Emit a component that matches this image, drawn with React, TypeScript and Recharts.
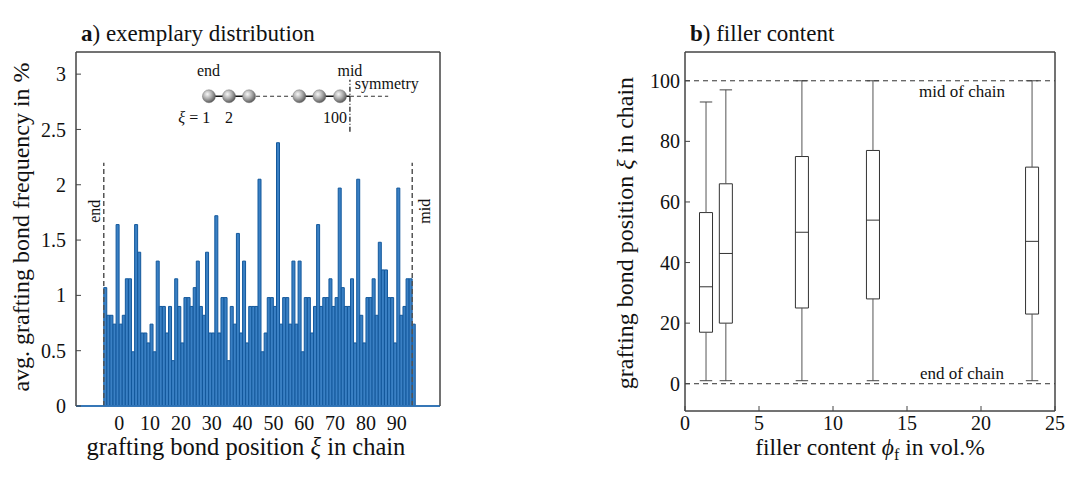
import React from 'react';
import {
  ComposedChart,
  Bar,
  XAxis,
  YAxis,
  ReferenceLine,
  ReferenceDot,
  ReferenceArea,
} from 'recharts';

const FONT = '"Liberation Serif", "Times New Roman", serif';

// ---------- panel a: exemplary distribution ----------
// avg. grafting bond frequency in % for each grafting bond position (bars 0..100)
const frequency = [
  1.07, 0.82, 0.82, 0.74, 1.64, 0.74, 0.82, 1.15, 1.15, 0.49,
  1.64, 1.39, 0.66, 0.66, 0.57, 0.74, 0.49, 1.31, 0.9, 0.9,
  0.66, 0.9, 0.41, 1.15, 0.9, 0.57, 0.98, 0.98, 0.9, 1.07,
  1.31, 0.9, 0.82, 1.39, 0.66, 0.66, 1.72, 0.66, 0.98, 0.98,
  0.41, 0.9, 0.74, 1.56, 0.66, 1.31, 0.57, 0.9, 0.9, 0.9,
  2.05, 0.49, 0.66, 0.98, 0.98, 0.9, 2.38, 0.74, 0.98, 0.98,
  0.74, 1.31, 0.74, 1.31, 0.49, 0.98, 0.98, 0.66, 0.9, 1.64,
  0.9, 0.98, 0.98, 1.15, 0.9, 0.98, 1.97, 1.07, 0.9, 0.9,
  1.15, 0.57, 2.05, 0.82, 0.57, 0.98, 0.98, 1.15, 0.82, 1.48,
  1.23, 1.23, 0.98, 0.98, 0.57, 1.97, 0.82, 0.9, 1.15, 1.15, 0.74,
];
const barTickPositions = [0, 10, 20, 30, 40, 50, 60, 70, 80, 90, 100];
const barLabelPositions = [5, 15, 25, 35, 45, 55, 65, 75, 85, 95];
const barLabels = ['0', '10', '20', '30', '40', '50', '60', '70', '80', '90'];
const freqTicks = [0, 0.5, 1, 1.5, 2, 2.5, 3];
const freqTickLabels = ['0', '0.5', '1', '1.5', '2', '2.5', '3'];
const xDomainA: [number, number] = [-9, 109];
const yDomainA: [number, number] = [0, 3.2];

// inset sketch (in panel-a data coordinates)
const insetBallX = [34.1, 40.6, 47.1, 63.4, 69.9, 76.6];
const insetBallY = 2.8;
const insetMidX = 79.8;
const insetDashEndX = 92.2;
const insetVertical: [number, number] = [2.48, 2.95];
const insetHeaderY = 2.984;
const insetEndLabelX = 33.97;
const insetSymmetry = { x: 81.4, y: 2.864 };
const insetIndexY = 2.556;
const insetIndexLabels = [
  { x: 34.5, text: '= 1', anchor: 'end', xi: true },
  { x: 40.6, text: '2', anchor: 'middle', xi: false },
  { x: 75.0, text: '100', anchor: 'middle', xi: false },
];
const boundaryTop = 2.2;
const boundaryLabelY = 1.76;

// ---------- panel b: filler content ----------
const fillerContent = [1.42, 2.76, 7.9, 12.7, 23.45];
const whiskerLow = [1, 1, 1, 1, 1];
const quartile1 = [17, 20, 25, 28, 23];
const medianPos = [32, 43, 50, 54, 47];
const quartile3 = [56.5, 66, 75, 77, 71.5];
const whiskerHigh = [93, 97, 100, 100, 100];
const fillerTicks = [0, 5, 10, 15, 20, 25];
const positionTicks = [0, 20, 40, 60, 80, 100];
const xDomainB: [number, number] = [0, 25];
const yDomainB: [number, number] = [-9, 109.5];
const BOX_HALF = 0.44;
const CAP_HALF = 0.42;

const barData = frequency.map((f, i) => ({ pos: i + 0.5, freq: f }));
const boxData = fillerContent.map((fc, i) => ({
  filler: fc,
  low: whiskerLow[i],
  q1: quartile1[i],
  med: medianPos[i],
  q3: quartile3[i],
  high: whiskerHigh[i],
}));

const tickStyle = { fontSize: 20, fill: '#111', fontFamily: FONT };
const AX = '#444';
const line = { stroke: AX, strokeWidth: 1 };

const textShape =
  (content: React.ReactNode, opts: { anchor?: string; size?: number; rotate?: boolean }) =>
  (props: any) => {
    const { cx, cy } = props;
    if (opts.rotate) {
      return (
        <text
          transform={`translate(${cx},${cy}) rotate(-90)`}
          textAnchor="middle"
          dominantBaseline="central"
          fontSize={opts.size ?? 16}
          fontFamily={FONT}
          fill="#111"
        >
          {content}
        </text>
      );
    }
    return (
      <text
        x={cx}
        y={cy}
        textAnchor={(opts.anchor as any) ?? 'middle'}
        fontSize={opts.size ?? 16}
        fontFamily={FONT}
        fill="#111"
      >
        {content}
      </text>
    );
  };

function PanelA() {
  const ax = { xAxisId: 'a', yAxisId: 'l' } as const;
  return (
    <ComposedChart
      width={460}
      height={478}
      data={barData}
      margin={{ top: 51, right: 19, bottom: 41, left: 0 }}
      barCategoryGap={0}
      barGap={0}
    >
      <defs>
        <radialGradient id="ballGrad" cx="38%" cy="34%" r="66%">
          <stop offset="0%" stopColor="#f7f7f7" />
          <stop offset="55%" stopColor="#a9a9a9" />
          <stop offset="100%" stopColor="#5c5c5c" />
        </radialGradient>
      </defs>
      <XAxis
        xAxisId="top"
        orientation="top"
        dataKey="pos"
        type="number"
        domain={xDomainA}
        allowDataOverflow
        ticks={barTickPositions}
        interval={0}
        tick={false}
        tickSize={-5}
        height={1}
        axisLine={line}
        tickLine={line}
      />
      <XAxis
        xAxisId="a"
        dataKey="pos"
        type="number"
        domain={xDomainA}
        allowDataOverflow
        ticks={barTickPositions}
        interval={0}
        tick={false}
        tickSize={6}
        height={1}
        axisLine={{ stroke: '#2f74b8', strokeWidth: 1.6 }}
        tickLine={line}
      />
      <XAxis
        xAxisId="b"
        dataKey="pos"
        type="number"
        domain={xDomainA}
        allowDataOverflow
        ticks={barLabelPositions}
        interval={0}
        tickFormatter={(v: number) => barLabels[barLabelPositions.indexOf(v)]}
        tickLine={false}
        axisLine={false}
        tickSize={0}
        tickMargin={9}
        height={30}
        tick={tickStyle}
      />
      <YAxis
        yAxisId="l"
        width={76}
        type="number"
        domain={yDomainA}
        allowDataOverflow
        ticks={freqTicks}
        interval={0}
        tickFormatter={(v: number) => freqTickLabels[freqTicks.indexOf(v)]}
        tickSize={-5}
        tickMargin={15}
        axisLine={line}
        tickLine={line}
        tick={tickStyle}
      />
      <YAxis
        yAxisId="r"
        orientation="right"
        width={1}
        type="number"
        domain={yDomainA}
        allowDataOverflow
        ticks={freqTicks}
        interval={0}
        tick={false}
        tickSize={-5}
        axisLine={line}
        tickLine={line}
      />
      <ReferenceArea
        {...ax}
        x1={xDomainA[0]}
        x2={xDomainA[1]}
        y1={yDomainA[0]}
        y2={yDomainA[1]}
        fill="none"
        fillOpacity={0}
        stroke={AX}
        strokeWidth={1}
      />
      <Bar
        {...ax}
        dataKey="freq"
        fill="#3a80c4"
        stroke="#13589c"
        strokeWidth={1}
        isAnimationActive={false}
      />
      <ReferenceLine {...ax} y={0} stroke="#2f74b8" strokeWidth={1.6} />
      {/* end / mid boundaries */}
      <ReferenceLine
        {...ax}
        segment={[{ x: 0, y: 0 }, { x: 0, y: boundaryTop }]}
        stroke="#555"
        strokeWidth={1.5}
        strokeDasharray="5 3"
      />
      <ReferenceLine
        {...ax}
        segment={[{ x: 100, y: 0 }, { x: 100, y: boundaryTop }]}
        stroke="#555"
        strokeWidth={1.5}
        strokeDasharray="5 3"
      />
      <ReferenceDot {...ax} x={-2.9} y={boundaryLabelY} r={1} shape={textShape('end', { rotate: true, size: 16 })} />
      <ReferenceDot {...ax} x={104.1} y={boundaryLabelY} r={1} shape={textShape('mid', { rotate: true, size: 16 })} />

      {/* inset chain sketch */}
      <ReferenceLine
        {...ax}
        segment={[{ x: insetBallX[0], y: insetBallY }, { x: insetBallX[2], y: insetBallY }]}
        stroke="#111"
        strokeWidth={1.5}
      />
      <ReferenceLine
        {...ax}
        segment={[{ x: insetBallX[2], y: insetBallY }, { x: insetBallX[3], y: insetBallY }]}
        stroke="#333"
        strokeWidth={1.2}
        strokeDasharray="4 3"
      />
      <ReferenceLine
        {...ax}
        segment={[{ x: insetBallX[3], y: insetBallY }, { x: insetMidX, y: insetBallY }]}
        stroke="#111"
        strokeWidth={1.5}
      />
      <ReferenceLine
        {...ax}
        segment={[{ x: insetMidX, y: insetBallY }, { x: insetDashEndX, y: insetBallY }]}
        stroke="#333"
        strokeWidth={1.2}
        strokeDasharray="4 3"
      />
      <ReferenceLine
        {...ax}
        segment={[{ x: insetMidX, y: insetVertical[0] }, { x: insetMidX, y: insetVertical[1] }]}
        stroke="#111"
        strokeWidth={1.2}
        strokeDasharray="5 2 1 2"
      />
      {insetBallX.map((bx, i) => (
        <ReferenceDot key={`ball-${i}`} {...ax} x={bx} y={insetBallY} r={6.5} fill="url(#ballGrad)" stroke="#666" strokeWidth={0.4} />
      ))}
      <ReferenceDot {...ax} x={insetEndLabelX} y={insetHeaderY} r={1} shape={textShape('end', { size: 16 })} />
      <ReferenceDot {...ax} x={insetMidX} y={insetHeaderY} r={1} shape={textShape('mid', { size: 16 })} />
      <ReferenceDot
        {...ax}
        x={insetSymmetry.x}
        y={insetSymmetry.y}
        r={1}
        shape={textShape('symmetry', { size: 16, anchor: 'start' })}
      />
      {insetIndexLabels.map((l, i) => (
        <ReferenceDot
          key={`idx-${i}`}
          {...ax}
          x={l.x}
          y={insetIndexY}
          r={1}
          shape={textShape(
            l.xi ? (
              <>
                <tspan fontStyle="italic">ξ</tspan>
                {' ' + l.text}
              </>
            ) : (
              l.text
            ),
            { size: 16, anchor: l.anchor }
          )}
        />
      ))}
    </ComposedChart>
  );
}

function PanelB() {
  const ax = { xAxisId: 'x', yAxisId: 'y' } as const;
  return (
    <ComposedChart width={520} height={478} data={boxData} margin={{ top: 51, right: 24, bottom: 37, left: 0 }}>
      <XAxis
        xAxisId="top"
        orientation="top"
        dataKey="filler"
        type="number"
        domain={xDomainB}
        allowDataOverflow
        ticks={fillerTicks}
        interval={0}
        tick={false}
        tickSize={-5}
        height={1}
        axisLine={line}
        tickLine={line}
      />
      <XAxis
        xAxisId="x"
        dataKey="filler"
        type="number"
        domain={xDomainB}
        allowDataOverflow
        ticks={fillerTicks}
        interval={0}
        tickSize={-5}
        tickMargin={10}
        height={30}
        axisLine={line}
        tickLine={line}
        tick={tickStyle}
      />
      <YAxis
        yAxisId="y"
        type="number"
        width={125}
        domain={yDomainB}
        allowDataOverflow
        ticks={positionTicks}
        interval={0}
        tickSize={-5}
        tickMargin={10}
        axisLine={line}
        tickLine={line}
        tick={tickStyle}
      />
      <YAxis
        yAxisId="r"
        orientation="right"
        type="number"
        width={1}
        domain={yDomainB}
        allowDataOverflow
        ticks={positionTicks}
        interval={0}
        tick={false}
        tickSize={-5}
        axisLine={line}
        tickLine={line}
      />
      <ReferenceArea
        {...ax}
        x1={xDomainB[0]}
        x2={xDomainB[1]}
        y1={yDomainB[0]}
        y2={yDomainB[1]}
        fill="none"
        fillOpacity={0}
        stroke={AX}
        strokeWidth={1}
      />
      <ReferenceLine {...ax} y={100} stroke="#333" strokeWidth={1} strokeDasharray="5 4" />
      <ReferenceLine {...ax} y={0} stroke="#333" strokeWidth={1} strokeDasharray="5 4" />
      <ReferenceDot {...ax} x={18.72} y={94.5} r={1} shape={textShape('mid of chain', { size: 17 })} />
      <ReferenceDot {...ax} x={18.72} y={1.45} r={1} shape={textShape('end of chain', { size: 17 })} />
      {boxData.map((b, i) => (
        <React.Fragment key={`box-${i}`}>
          <ReferenceLine
            {...ax}
            segment={[{ x: b.filler, y: b.low }, { x: b.filler, y: b.q1 }]}
            stroke="#555"
            strokeWidth={1}
          />
          <ReferenceLine
            {...ax}
            segment={[{ x: b.filler, y: b.q3 }, { x: b.filler, y: b.high }]}
            stroke="#555"
            strokeWidth={1}
          />
          <ReferenceLine
            {...ax}
            segment={[{ x: b.filler - CAP_HALF, y: b.low }, { x: b.filler + CAP_HALF, y: b.low }]}
            stroke="#444"
            strokeWidth={1}
          />
          <ReferenceLine
            {...ax}
            segment={[{ x: b.filler - CAP_HALF, y: b.high }, { x: b.filler + CAP_HALF, y: b.high }]}
            stroke="#444"
            strokeWidth={1}
          />
          <ReferenceArea
            {...ax}
            x1={b.filler - BOX_HALF}
            x2={b.filler + BOX_HALF}
            y1={b.q1}
            y2={b.q3}
            fill="none"
            fillOpacity={0}
            stroke="#333"
            strokeWidth={1}
          />
          <ReferenceLine
            {...ax}
            segment={[{ x: b.filler - BOX_HALF, y: b.med }, { x: b.filler + BOX_HALF, y: b.med }]}
            stroke="#333"
            strokeWidth={1}
          />
        </React.Fragment>
      ))}
    </ComposedChart>
  );
}

export default function App() {
  return (
    <div
      style={{
        position: 'absolute',
        left: 0,
        top: 0,
        width: 1080,
        height: 478,
        background: '#fff',
        overflow: 'hidden',
        fontFamily: FONT,
      }}
    >
      <div style={{ position: 'absolute', left: 0, top: 0 }}>
        <PanelA />
      </div>
      <div style={{ position: 'absolute', left: 560, top: 0 }}>
        <PanelB />
      </div>
      <svg
        width={1080}
        height={478}
        style={{ position: 'absolute', left: 0, top: 0, pointerEvents: 'none' }}
        fontFamily={FONT}
        fill="#111"
      >
        <text x={81} y={41} fontSize={23}>
          <tspan fontWeight="bold">a</tspan>) exemplary distribution
        </text>
        <text x={690} y={41} fontSize={23}>
          <tspan fontWeight="bold">b</tspan>) filler content
        </text>
        <text x={246} y={455} textAnchor="middle" fontSize={24.5}>
          grafting bond position <tspan fontStyle="italic">ξ</tspan> in chain
        </text>
        <text transform="translate(29,227) rotate(-90)" textAnchor="middle" fontSize={24}>
          avg. grafting bond frequency in %
        </text>
        <text x={870} y={455} textAnchor="middle" fontSize={23.5}>
          filler content <tspan fontStyle="italic">ϕ</tspan>
          <tspan fontSize={16} dy={5}>f</tspan>
          <tspan dy={-5}> in vol.%</tspan>
        </text>
        <text transform="translate(633,233) rotate(-90)" textAnchor="middle" fontSize={24}>
          grafting bond position <tspan fontStyle="italic">ξ</tspan> in chain
        </text>
      </svg>
    </div>
  );
}
